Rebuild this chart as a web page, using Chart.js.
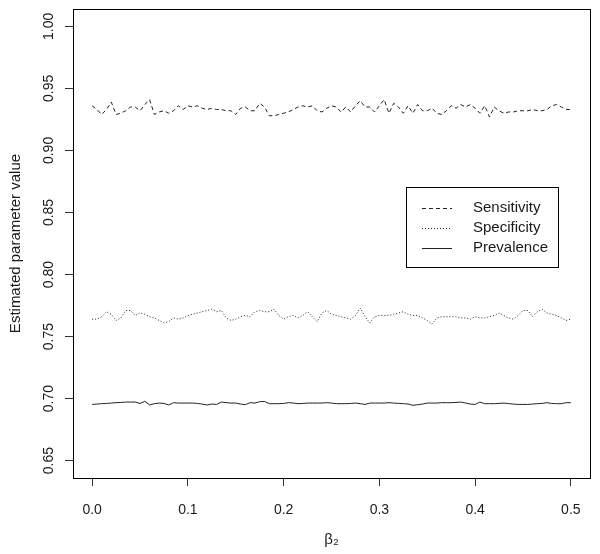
<!DOCTYPE html>
<html>
<head>
<meta charset="utf-8">
<script src="https://cdn.jsdelivr.net/npm/chart.js@4/dist/chart.umd.min.js"></script>
<style>html,body{margin:0;padding:0;background:#fff;}canvas{display:block;}</style>
</head>
<body>
<canvas id="c" width="600" height="554"></canvas>
<script>
// ---- data ----
const beta2 = [
  0,0.005,0.01,0.015,0.02,0.025,0.03,0.035,0.04,0.045,
  0.05,0.055,0.06,0.065,0.07,0.075,0.08,0.085,0.09,0.095,
  0.1,0.105,0.11,0.115,0.12,0.125,0.13,0.135,0.14,0.145,
  0.15,0.155,0.16,0.165,0.17,0.175,0.18,0.185,0.19,0.195,
  0.2,0.205,0.21,0.215,0.22,0.225,0.23,0.235,0.24,0.245,
  0.25,0.255,0.26,0.265,0.27,0.275,0.28,0.285,0.29,0.295,
  0.3,0.305,0.31,0.315,0.32,0.325,0.33,0.335,0.34,0.345,
  0.35,0.355,0.36,0.365,0.37,0.375,0.38,0.385,0.39,0.395,
  0.4,0.405,0.41,0.415,0.42,0.425,0.43,0.435,0.44,0.445,
  0.45,0.455,0.46,0.465,0.47,0.475,0.48,0.485,0.49,0.495,
  0.5
];
const sensitivity = [
  0.936,0.933,0.929,0.933,0.939,0.929,0.930,0.932,0.935,0.935,
  0.932,0.937,0.941,0.929,0.931,0.932,0.930,0.932,0.936,0.933,
  0.936,0.935,0.936,0.934,0.933,0.934,0.933,0.933,0.932,0.932,
  0.929,0.934,0.935,0.932,0.932,0.938,0.935,0.928,0.928,0.929,
  0.930,0.931,0.933,0.935,0.936,0.935,0.936,0.932,0.931,0.934,
  0.936,0.935,0.931,0.935,0.931,0.936,0.940,0.935,0.935,0.931,
  0.936,0.941,0.930,0.938,0.935,0.930,0.936,0.930,0.937,0.932,
  0.932,0.934,0.930,0.929,0.932,0.936,0.934,0.937,0.935,0.937,
  0.934,0.930,0.936,0.927,0.935,0.932,0.930,0.931,0.931,0.932,
  0.932,0.932,0.933,0.932,0.932,0.933,0.936,0.937,0.935,0.933,
  0.933
];
const specificity = [
  0.764,0.764,0.766,0.770,0.768,0.763,0.765,0.771,0.771,0.767,
  0.769,0.768,0.766,0.765,0.763,0.761,0.762,0.765,0.764,0.765,
  0.767,0.768,0.769,0.770,0.771,0.772,0.770,0.771,0.765,0.763,
  0.764,0.766,0.767,0.766,0.770,0.771,0.770,0.770,0.772,0.767,
  0.764,0.766,0.767,0.765,0.767,0.770,0.766,0.762,0.769,0.771,
  0.768,0.767,0.766,0.765,0.764,0.767,0.773,0.766,0.761,0.766,
  0.767,0.767,0.767,0.768,0.769,0.770,0.768,0.767,0.767,0.765,
  0.763,0.760,0.765,0.766,0.766,0.766,0.766,0.765,0.765,0.764,
  0.766,0.765,0.765,0.766,0.767,0.769,0.767,0.765,0.764,0.767,
  0.771,0.771,0.766,0.770,0.772,0.769,0.768,0.767,0.765,0.763,
  0.764
];
const prevalence = [
  0.6953,0.6956,0.6959,0.6961,0.6964,0.6967,0.6969,0.6972,0.6972,0.6972,
  0.6961,0.6978,0.6949,0.6959,0.6964,0.6961,0.6948,0.6967,0.6964,0.6964,
  0.6964,0.6964,0.6961,0.6956,0.6948,0.6956,0.6953,0.6972,0.6967,0.6964,
  0.6964,0.6956,0.6951,0.6967,0.6964,0.6975,0.6977,0.6959,0.6959,0.6959,
  0.6961,0.6967,0.6964,0.6959,0.6961,0.6964,0.6964,0.6964,0.6964,0.6967,
  0.6964,0.6959,0.6959,0.6959,0.6961,0.6964,0.6959,0.6953,0.6964,0.6964,
  0.6964,0.6964,0.6967,0.6964,0.6961,0.6959,0.6956,0.6946,0.6951,0.6956,
  0.6964,0.6964,0.6964,0.6967,0.6967,0.6967,0.6969,0.6972,0.6964,0.6956,
  0.6953,0.6972,0.6959,0.6959,0.6959,0.6961,0.6964,0.6959,0.6956,0.6953,
  0.6953,0.6953,0.6956,0.6959,0.6961,0.6967,0.6961,0.6959,0.6959,0.6967,
  0.6967
];
const seriesNames = ['Sensitivity', 'Specificity', 'Prevalence'];
const xTicks = [0.0, 0.1, 0.2, 0.3, 0.4, 0.5];
const yTicks = [0.65, 0.70, 0.75, 0.80, 0.85, 0.90, 0.95, 1.00];
const xTitle = 'β₂';
const yTitle = 'Estimated parameter value';

// ---- styling ----
const FONT = "'Liberation Sans', Arial, Helvetica, sans-serif";
const INK = '#1a1a1a';
const pts = arr => beta2.map((x, i) => ({ x: x, y: arr[i] }));

const boxPlugin = {
  id: 'rBox',
  afterDatasetsDraw(chart) {
    const a = chart.chartArea, ctx = chart.ctx;
    ctx.save();
    ctx.strokeStyle = '#000';
    ctx.lineWidth = 1;
    ctx.setLineDash([]);
    ctx.strokeRect(Math.round(a.left) + 0.5, Math.round(a.top) + 0.5,
                   Math.round(a.right - a.left), Math.round(a.bottom - a.top));
    ctx.restore();
  }
};

const legendPlugin = {
  id: 'rLegend',
  afterDraw(chart) {
    const ctx = chart.ctx;
    const bx = 406, by = 187, bw = 152, bh = 80;
    ctx.save();
    ctx.fillStyle = '#fff';
    ctx.fillRect(bx, by, bw, bh);
    ctx.strokeStyle = '#000';
    ctx.lineWidth = 1;
    ctx.setLineDash([]);
    ctx.strokeRect(bx + 0.5, by + 0.5, bw, bh);
    chart.data.datasets.forEach((ds, i) => {
      const cy = 208 + i * 20;
      ctx.strokeStyle = ds.borderColor;
      ctx.lineWidth = ds.borderWidth;
      ctx.setLineDash(ds.borderDash || []);
      ctx.beginPath();
      ctx.moveTo(422, cy + 0.5);
      ctx.lineTo(452, cy + 0.5);
      ctx.stroke();
      ctx.setLineDash([]);
      ctx.fillStyle = INK;
      ctx.font = '15px ' + FONT;
      ctx.textAlign = 'left';
      ctx.textBaseline = 'middle';
      ctx.fillText(ds.label, 473, cy);
    });
    ctx.restore();
  }
};

const lineDs = (label, arr, dash) => ({
  label: label,
  data: pts(arr),
  borderColor: '#222',
  borderWidth: 1,
  borderDash: dash,
  pointRadius: 0,
  pointHoverRadius: 0,
  fill: false,
  tension: 0
});

new Chart(document.getElementById('c').getContext('2d'), {
  type: 'line',
  data: {
    datasets: [
      lineDs(seriesNames[0], sensitivity, [4, 3]),
      lineDs(seriesNames[1], specificity, [1, 2]),
      lineDs(seriesNames[2], prevalence, [])
    ]
  },
  options: {
    responsive: false,
    animation: false,
    devicePixelRatio: 1,
    layout: { padding: { top: 9, right: 10, left: 0, bottom: 0 } },
    plugins: { legend: { display: false }, tooltip: { enabled: false } },
    scales: {
      x: {
        type: 'linear',
        min: -0.02,
        max: 0.52,
        afterBuildTicks: s => { s.ticks = xTicks.map(v => ({ value: v })); },
        afterFit: s => { s.height = 76; s.paddingLeft = 0; s.paddingRight = 0; },
        ticks: {
          callback: v => Number(v).toFixed(1),
          font: { family: FONT, size: 14 },
          color: INK,
          padding: 16,
          maxRotation: 0,
          minRotation: 0,
          autoSkip: false
        },
        grid: { display: true, drawOnChartArea: false, drawTicks: true, tickLength: 8, color: '#333', lineWidth: 1 },
        border: { display: false },
        title: { display: true, text: xTitle, font: { family: FONT, size: 15 }, color: INK, padding: { top: 0, bottom: 5 } }
      },
      y: {
        type: 'linear',
        min: 0.636,
        max: 1.014,
        afterBuildTicks: s => { s.ticks = yTicks.map(v => ({ value: v })); },
        afterFit: s => { s.width = 73; s.paddingTop = 0; s.paddingBottom = 0; },
        ticks: {
          callback: v => Number(v).toFixed(2),
          font: { family: FONT, size: 14 },
          color: INK,
          padding: 2,
          minRotation: 90,
          maxRotation: 90,
          crossAlign: 'center',
          autoSkip: false
        },
        grid: { display: true, drawOnChartArea: false, drawTicks: true, tickLength: 8, color: '#333', lineWidth: 1 },
        border: { display: false },
        title: { display: true, text: yTitle, font: { family: FONT, size: 15 }, color: INK, padding: { top: 7, bottom: 0 } }
      }
    }
  },
  plugins: [boxPlugin, legendPlugin]
});
</script>
</body>
</html>
